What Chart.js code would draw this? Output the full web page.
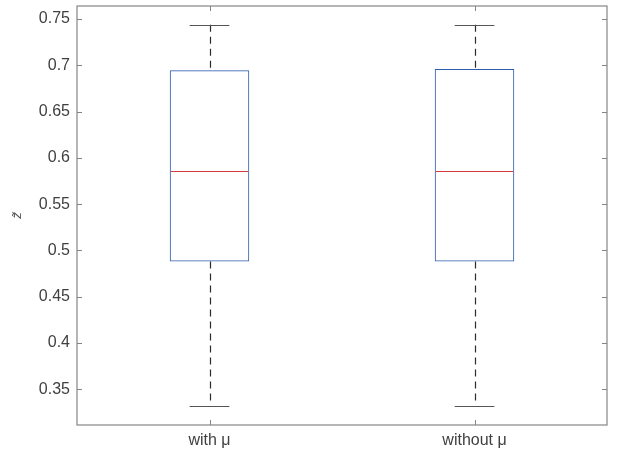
<!DOCTYPE html>
<html>
<head>
<meta charset="utf-8">
<script src="https://cdn.jsdelivr.net/npm/chart.js@4/dist/chart.umd.min.js"></script>
<style>
  body { margin: 0; background: #fff; }
  #wrap { width: 621px; height: 456px; }
</style>
</head>
<body>
<div id="wrap"><canvas id="boxChart" width="621" height="456"></canvas></div>
<script>
// box plot values
const categories = ['with μ', 'without μ'];
const lowerWhisker = [0.3324, 0.3324];
const lowerQuartile = [0.488, 0.488];
const medians = [0.5853, 0.5853];
const upperQuartile = [0.6945, 0.696];
const upperWhisker = [0.7438, 0.7438];
const yTicks = [0.35, 0.4, 0.45, 0.5, 0.55, 0.6, 0.65, 0.7, 0.75];

const FONT = '"Liberation Sans", Arial, Helvetica, sans-serif';

// whiskers, caps, medians and the axes frame with inward ticks
const boxExtras = {
    id: 'boxExtras',
    afterDatasetsDraw(chart) {
        const ctx = chart.ctx;
        const y = chart.scales.y;
        const x = chart.scales.x;
        const meta = chart.getDatasetMeta(0);
        ctx.save();

        meta.data.forEach((bar, i) => {
            const cx = Math.round(bar.x) + 0.5;
            const half = bar.width / 2;

            // dashed whiskers
            ctx.strokeStyle = '#2b2b2b';
            ctx.lineWidth = 1.2;
            ctx.setLineDash([7, 5]);
            ctx.beginPath();
            ctx.moveTo(cx, y.getPixelForValue(upperWhisker[i]));
            ctx.lineTo(cx, y.getPixelForValue(upperQuartile[i]));
            ctx.moveTo(cx, y.getPixelForValue(lowerQuartile[i]));
            ctx.lineTo(cx, y.getPixelForValue(lowerWhisker[i]));
            ctx.stroke();
            ctx.setLineDash([]);

            // caps
            ctx.strokeStyle = '#555555';
            ctx.lineWidth = 1.2;
            ctx.beginPath();
            const yt = Math.round(y.getPixelForValue(upperWhisker[i])) + 0.5;
            const yb = Math.round(y.getPixelForValue(lowerWhisker[i])) + 0.5;
            ctx.moveTo(bar.x - half / 2, yt);
            ctx.lineTo(bar.x + half / 2, yt);
            ctx.moveTo(bar.x - half / 2, yb);
            ctx.lineTo(bar.x + half / 2, yb);
            ctx.stroke();

            // median
            ctx.strokeStyle = '#d93b3b';
            ctx.lineWidth = 1;
            ctx.beginPath();
            const ym = Math.round(y.getPixelForValue(medians[i])) + 0.5;
            ctx.moveTo(bar.x - half + 1, ym);
            ctx.lineTo(bar.x + half - 1, ym);
            ctx.stroke();
        });

        // frame
        const a = chart.chartArea;
        ctx.strokeStyle = '#858585';
        ctx.lineWidth = 1.2;
        ctx.strokeRect(a.left, a.top, a.right - a.left, a.bottom - a.top);

        // inward ticks on all four sides
        ctx.lineWidth = 1;
        ctx.beginPath();
        yTicks.forEach(v => {
            const py = Math.round(y.getPixelForValue(v)) + 0.5;
            ctx.moveTo(a.left, py); ctx.lineTo(a.left + 5, py);
            ctx.moveTo(a.right, py); ctx.lineTo(a.right - 5, py);
        });
        categories.forEach((c, i) => {
            const px = Math.round(x.getPixelForValue(i)) + 0.5;
            ctx.moveTo(px, a.bottom); ctx.lineTo(px, a.bottom - 5);
            ctx.moveTo(px, a.top); ctx.lineTo(px, a.top + 5);
        });
        ctx.stroke();
        ctx.restore();
    }
};

new Chart(document.getElementById('boxChart'), {
    type: 'bar',
    data: {
        labels: categories,
        datasets: [{
            data: categories.map((c, i) => [lowerQuartile[i], upperQuartile[i]]),
            backgroundColor: 'rgba(0,0,0,0)',
            borderColor: '#2c5cb0',
            borderWidth: 1,
            borderSkipped: false,
            barPercentage: 0.3,
            categoryPercentage: 1
        }]
    },
    options: {
        responsive: false,
        animation: false,
        layout: { padding: { top: 6, right: 14, left: 0, bottom: 0 } },
        plugins: {
            legend: { display: false },
            tooltip: { enabled: false }
        },
        scales: {
            x: {
                type: 'category',
                offset: true,
                grid: { display: false, drawTicks: false },
                border: { display: false },
                ticks: {
                    color: '#404040',
                    font: { family: FONT, size: 16 },
                    padding: 6
                },
                afterFit(scale) {
                    scale.height = 31;
                    scale.paddingLeft = 0;
                    scale.paddingRight = 0;
                }
            },
            y: {
                min: 0.3114,
                max: 0.764,
                grid: { display: false, drawTicks: false },
                border: { display: false },
                afterBuildTicks(scale) {
                    scale.ticks = yTicks.map(v => ({ value: v }));
                },
                ticks: {
                    color: '#404040',
                    font: { family: FONT, size: 16 },
                    padding: 7,
                    callback: v => String(+v.toFixed(2))
                },
                title: {
                    display: true,
                    text: 'z̃',
                    color: '#555555',
                    font: { family: FONT, size: 13, style: 'italic' },
                    padding: { top: 10, bottom: 0 }
                },
                afterFit(scale) {
                    scale.width = 77;
                    scale.paddingTop = 0;
                    scale.paddingBottom = 0;
                }
            }
        }
    },
    plugins: [boxExtras]
});
</script>
</body>
</html>
